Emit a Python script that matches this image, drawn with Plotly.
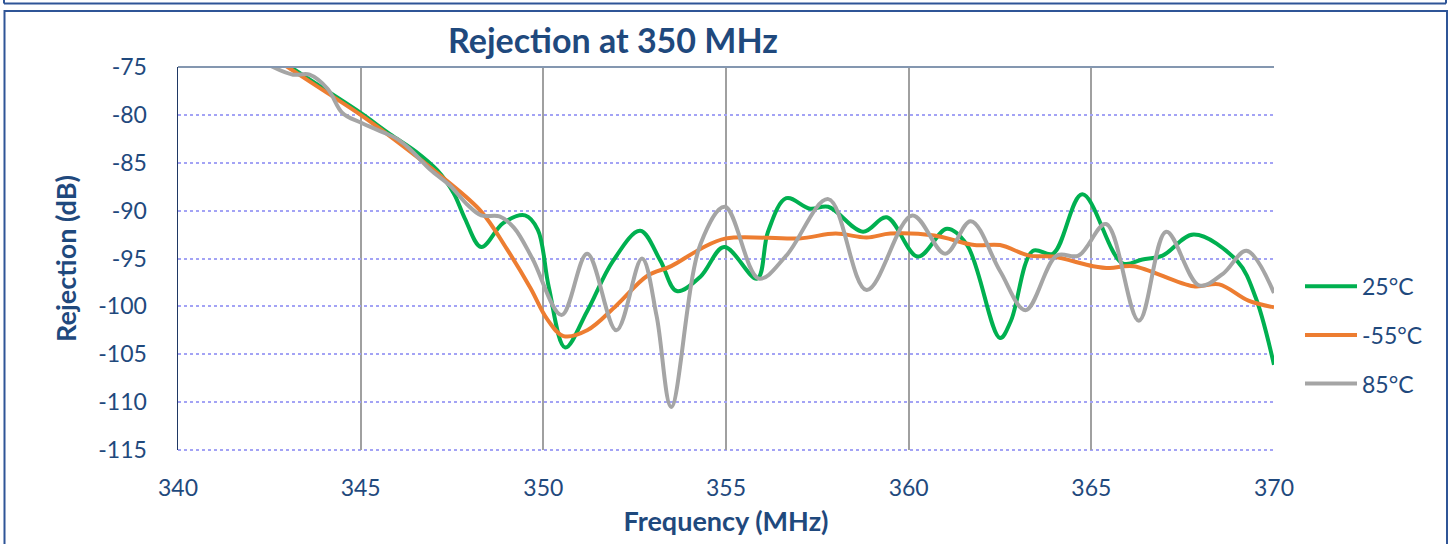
import plotly.graph_objects as go

# ---- data ----
freq_25 = [340.0, 341.5, 343.0, 344.0, 345.0, 345.8, 346.5, 347.1, 347.55, 347.85, 348.3, 348.9, 349.5, 349.85,
           350.15, 350.6, 351.2, 351.9, 352.65, 353.2, 353.65, 354.3, 354.95, 355.85, 356.15, 356.65, 357.3,
           357.8, 358.75, 359.4, 360.25, 361.05, 361.6, 362.5, 362.8, 363.4, 363.95, 364.75, 365.85, 366.4,
           366.95, 367.8, 369.0, 369.5, 370.0]
rej_25 = [-68.0, -71.0, -74.8, -77.3, -79.8, -82.0, -83.8, -85.8, -88.2, -90.8, -93.8, -91.3, -90.5, -92.0,
          -98.0, -104.3, -100.5, -95.3, -92.1, -95.2, -98.4, -96.9, -93.8, -97.1, -92.2, -88.7, -89.8,
          -89.6, -92.2, -90.7, -94.8, -91.9, -93.6, -103.3, -101.5, -94.2, -94.5, -88.3, -95.5, -95.1,
          -94.7, -92.5, -95.3, -99.1, -106.1]

freq_m55 = [340.0, 341.5, 343.0, 344.0, 345.0, 346.0, 347.2, 348.3, 349.0, 349.65, 350.1, 350.55, 351.2, 352.0,
            352.85, 353.5, 354.3, 355.0, 357.0, 358.0, 358.85, 359.5, 360.7, 361.8, 362.5, 363.3, 363.95,
            365.05, 365.5, 366.15, 367.8, 368.5, 369.3, 370.0]
rej_m55 = [-67.5, -71.2, -75.0, -77.5, -80.0, -82.8, -86.4, -90.1, -94.0, -98.1, -101.3, -103.1, -102.5, -99.9,
           -96.8, -95.8, -94.0, -92.9, -92.9, -92.4, -92.8, -92.4, -92.6, -93.6, -93.6, -94.7, -94.8,
           -95.8, -96.0, -95.8, -97.9, -97.7, -99.4, -100.1]

freq_85 = [340.0, 341.5, 342.6, 343.15, 343.6, 344.1, 344.5, 345.0, 345.6, 345.95, 346.3, 346.9, 347.45, 347.9,
           348.3, 348.8, 349.2, 349.7, 350.5, 351.2, 352.0, 352.7, 353.1, 353.5, 354.3, 354.97, 355.9,
           356.65, 357.8, 358.85, 360.1, 361.0, 361.7, 362.5, 363.2, 364.05, 364.65, 365.4, 366.3, 367.05,
           367.95, 368.6, 369.25, 370.0]
rej_85 = [-69.0, -72.5, -75.0, -75.8, -75.8, -77.3, -79.8, -80.8, -81.8, -82.4, -83.4, -85.7, -87.4, -89.3,
          -90.5, -90.6, -91.8, -95.0, -100.9, -94.5, -102.5, -95.0, -101.0, -110.5, -93.5, -89.6, -97.1,
          -94.7, -88.8, -98.3, -90.5, -94.5, -91.1, -96.3, -100.4, -94.7, -94.7, -91.4, -101.5, -92.2,
          -97.8, -96.6, -94.2, -98.6]

series_names = ["25°C", "-55°C", "85°C"]
series_colors = ["#00B050", "#ED7D31", "#A5A5A5"]
x_ticks = [340, 345, 350, 355, 360, 365, 370]
y_ticks = [-75, -80, -85, -90, -95, -100, -105, -110, -115]

# ---- layout geometry (pixels) ----
W, H = 1453, 544
L, R, T, B = 178, 1274, 67, 453   # plot area edges


def px(x):
    return (x - L) / (R - L)


def py(y):
    return (B - y) / (B - T)


TXT = "#1F497D"
FONT = "Lato"
GRID_H = "#A3A3F5"

fig = go.Figure()
for xs, ys, name, col in zip([freq_25, freq_m55, freq_85], [rej_25, rej_m55, rej_85],
                             series_names, series_colors):
    fig.add_trace(go.Scatter(x=xs, y=ys, mode="lines", name=name,
                             line=dict(color=col, width=4, shape="spline", smoothing=1.0),
                             showlegend=False, hoverinfo="skip"))

shapes = []
# frames around the chart
frame_col = "#2F5597"
shapes.append(dict(type="line", xref="paper", yref="paper", x0=px(4), x1=px(1446), y0=py(3), y1=py(3),
                   line=dict(color=frame_col, width=2)))
shapes.append(dict(type="line", xref="paper", yref="paper", x0=px(4), x1=px(4), y0=py(-5), y1=py(3),
                   line=dict(color=frame_col, width=2)))
shapes.append(dict(type="line", xref="paper", yref="paper", x0=px(1446), x1=px(1446), y0=py(-5), y1=py(3),
                   line=dict(color=frame_col, width=2)))
shapes.append(dict(type="rect", xref="paper", yref="paper", x0=px(4.5), x1=px(1447), y0=py(10.5), y1=py(560),
                   line=dict(color=frame_col, width=2)))
# plot area top border and dotted bottom edge
shapes.append(dict(type="line", xref="paper", yref="paper", x0=0, x1=1, y0=1, y1=1,
                   line=dict(color="#8497B0", width=2)))
shapes.append(dict(type="line", xref="paper", yref="paper", x0=0, x1=1, y0=0, y1=0,
                   line=dict(color=GRID_H, width=2, dash="dot"), layer="below"))

# custom legend
annotations = []
leg_y = [288, 337, 386]
for name, col, yy in zip(series_names, series_colors, leg_y):
    shapes.append(dict(type="line", xref="paper", yref="paper", x0=px(1305), x1=px(1357), y0=py(yy), y1=py(yy),
                       line=dict(color=col, width=4)))
    annotations.append(dict(text=name, xref="paper", yref="paper", x=px(1360), y=py(yy), xanchor="left",
                            yanchor="middle", showarrow=False, font=dict(family=FONT, size=23, color=TXT)))

fig.update_layout(
    width=W, height=H,
    margin=dict(l=L, r=W - R, t=T, b=H - B, pad=0),
    paper_bgcolor="white", plot_bgcolor="white",
    title=dict(text="<b>Rejection at 350 MHz</b>", x=613 / W, xref="container", xanchor="center",
               y=1 - 41 / H, yref="container", yanchor="middle",
               font=dict(family=FONT, size=34, color=TXT)),
    shapes=shapes, annotations=annotations,
    showlegend=False, hovermode=False,
)
fig.update_xaxes(range=[340, 370], tickvals=x_ticks, ticktext=[str(v) for v in x_ticks],
                 showgrid=True, gridcolor="#A0A0A0", gridwidth=2,
                 showline=False, zeroline=False, ticks="", ticklabelstandoff=22,
                 tickfont=dict(family=FONT, size=23, color=TXT),
                 title=dict(text="<b>Frequency (MHz)</b>", standoff=12,
                            font=dict(family=FONT, size=27, color=TXT)))
fig.update_yaxes(range=[-115, -75], tickvals=y_ticks, ticktext=[str(v) for v in y_ticks],
                 showgrid=True, gridcolor=GRID_H, gridwidth=2, griddash="dot",
                 showline=True, linecolor="#1F3864", linewidth=1.5, zeroline=False,
                 ticks="", ticklabelstandoff=25,
                 tickfont=dict(family=FONT, size=23, color=TXT),
                 title=dict(text="<b>Rejection (dB)</b>", standoff=14,
                            font=dict(family=FONT, size=27, color=TXT)))

fig.write_html("out.html", config={"displayModeBar": False, "staticPlot": True},
               post_script="document.body.style.margin='0';document.body.style.overflow='hidden';")
